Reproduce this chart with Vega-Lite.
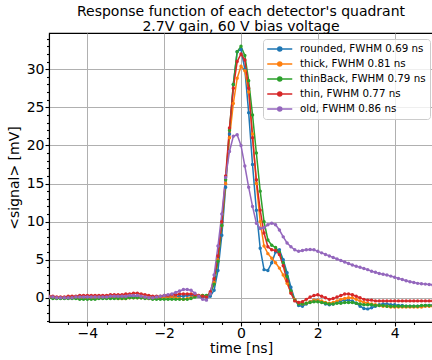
{
  "$schema": "https://vega.github.io/schema/vega-lite/v6.json",
  "width": 384,
  "height": 289,
  "autosize": {"type": "none"},
  "padding": {"left": 49, "top": 33, "right": 0, "bottom": 38},
  "background": "white",
  "config": {
    "font": "DejaVu Sans",
    "view": {"stroke": "black", "strokeWidth": 1.1},
    "axis": {"domainColor": "black", "domainWidth": 1.1, "tickColor": "black", "tickWidth": 1.1, "labelFont": "DejaVu Sans", "labelFontSize": 14, "labelColor": "black", "titleFont": "DejaVu Sans", "titleFontSize": 14, "titleFontWeight": "normal", "titleColor": "black", "gridColor": "#b0b0b0", "gridWidth": 1}
  },
  "title": {"text": ["Response function of each detector's quadrant", "2.7V gain, 60 V bias voltage"], "fontSize": 14, "font": "DejaVu Sans", "fontWeight": "normal", "color": "black", "lineHeight": 15.5, "offset": -1, "anchor": "middle"},
  "data": {"values": [
    {"t":-5.0,"rounded":0.1,"thick":0.1,"thinBack":0.0,"thin":0.2,"old":0.1},
    {"t":-4.9,"rounded":0.1,"thick":0.0,"thinBack":-0.1,"thin":0.2,"old":0.1},
    {"t":-4.8,"rounded":0.0,"thick":0.0,"thinBack":-0.1,"thin":0.1,"old":0.0},
    {"t":-4.7,"rounded":0.0,"thick":0.0,"thinBack":-0.1,"thin":0.1,"old":0.0},
    {"t":-4.6,"rounded":0.0,"thick":0.0,"thinBack":-0.1,"thin":0.1,"old":0.0},
    {"t":-4.5,"rounded":0.0,"thick":0.0,"thinBack":-0.1,"thin":0.2,"old":0.0},
    {"t":-4.4,"rounded":0.0,"thick":0.0,"thinBack":-0.1,"thin":0.2,"old":0.0},
    {"t":-4.3,"rounded":0.1,"thick":0.0,"thinBack":-0.1,"thin":0.2,"old":0.1},
    {"t":-4.2,"rounded":0.1,"thick":0.0,"thinBack":-0.2,"thin":0.3,"old":0.1},
    {"t":-4.1,"rounded":0.0,"thick":0.0,"thinBack":-0.2,"thin":0.3,"old":0.1},
    {"t":-4.0,"rounded":0.0,"thick":-0.1,"thinBack":-0.2,"thin":0.3,"old":0.1},
    {"t":-3.9,"rounded":0.0,"thick":-0.1,"thinBack":-0.2,"thin":0.3,"old":0.1},
    {"t":-3.8,"rounded":0.0,"thick":0.0,"thinBack":-0.2,"thin":0.3,"old":0.1},
    {"t":-3.7,"rounded":0.1,"thick":0.0,"thinBack":-0.1,"thin":0.3,"old":0.1},
    {"t":-3.6,"rounded":0.1,"thick":0.0,"thinBack":-0.1,"thin":0.3,"old":0.1},
    {"t":-3.5,"rounded":0.1,"thick":0.0,"thinBack":-0.1,"thin":0.3,"old":0.1},
    {"t":-3.4,"rounded":0.1,"thick":0.0,"thinBack":-0.1,"thin":0.4,"old":0.2},
    {"t":-3.3,"rounded":0.1,"thick":0.0,"thinBack":-0.1,"thin":0.4,"old":0.2},
    {"t":-3.2,"rounded":0.1,"thick":-0.1,"thinBack":-0.1,"thin":0.4,"old":0.2},
    {"t":-3.1,"rounded":0.1,"thick":-0.1,"thinBack":-0.1,"thin":0.4,"old":0.2},
    {"t":-3.0,"rounded":0.1,"thick":-0.1,"thinBack":-0.1,"thin":0.5,"old":0.2},
    {"t":-2.9,"rounded":0.1,"thick":0.0,"thinBack":0.0,"thin":0.5,"old":0.3},
    {"t":-2.8,"rounded":0.1,"thick":0.0,"thinBack":0.0,"thin":0.6,"old":0.3},
    {"t":-2.7,"rounded":0.1,"thick":0.0,"thinBack":0.0,"thin":0.6,"old":0.3},
    {"t":-2.6,"rounded":0.0,"thick":0.0,"thinBack":0.0,"thin":0.5,"old":0.2},
    {"t":-2.5,"rounded":0.0,"thick":0.0,"thinBack":-0.1,"thin":0.4,"old":0.1},
    {"t":-2.4,"rounded":0.0,"thick":-0.1,"thinBack":-0.1,"thin":0.3,"old":0.0},
    {"t":-2.3,"rounded":0.0,"thick":-0.1,"thinBack":-0.2,"thin":0.2,"old":0.0},
    {"t":-2.2,"rounded":0.0,"thick":0.0,"thinBack":-0.2,"thin":0.2,"old":0.1},
    {"t":-2.1,"rounded":0.0,"thick":0.0,"thinBack":-0.2,"thin":0.2,"old":0.2},
    {"t":-2.0,"rounded":0.1,"thick":0.0,"thinBack":-0.2,"thin":0.3,"old":0.3},
    {"t":-1.9,"rounded":0.1,"thick":0.1,"thinBack":-0.2,"thin":0.3,"old":0.4},
    {"t":-1.8,"rounded":0.1,"thick":0.1,"thinBack":-0.2,"thin":0.4,"old":0.5},
    {"t":-1.7,"rounded":0.2,"thick":0.0,"thinBack":-0.2,"thin":0.4,"old":0.7},
    {"t":-1.6,"rounded":0.2,"thick":-0.1,"thinBack":-0.2,"thin":0.5,"old":0.9},
    {"t":-1.5,"rounded":0.2,"thick":-0.2,"thinBack":-0.2,"thin":0.5,"old":1.1},
    {"t":-1.4,"rounded":0.3,"thick":-0.1,"thinBack":-0.2,"thin":0.5,"old":1.1},
    {"t":-1.3,"rounded":0.3,"thick":0.0,"thinBack":-0.1,"thin":0.5,"old":1.0},
    {"t":-1.2,"rounded":0.2,"thick":0.2,"thinBack":0.1,"thin":0.4,"old":0.6},
    {"t":-1.1,"rounded":0.2,"thick":0.3,"thinBack":0.2,"thin":0.3,"old":0.2},
    {"t":-1.0,"rounded":0.1,"thick":0.3,"thinBack":0.3,"thin":0.2,"old":-0.2},
    {"t":-0.9,"rounded":0.1,"thick":0.2,"thinBack":0.3,"thin":0.1,"old":-0.3},
    {"t":-0.8,"rounded":0.2,"thick":0.6,"thinBack":0.5,"thin":0.8,"old":0.5},
    {"t":-0.7,"rounded":1.0,"thick":2.0,"thinBack":1.8,"thin":2.5,"old":3.0},
    {"t":-0.6,"rounded":3.6,"thick":5.0,"thinBack":4.8,"thin":5.5,"old":6.8},
    {"t":-0.5,"rounded":8.2,"thick":9.5,"thinBack":9.5,"thin":10.0,"old":11.0},
    {"t":-0.4,"rounded":14.5,"thick":15.0,"thinBack":15.5,"thin":16.0,"old":15.8},
    {"t":-0.3,"rounded":21.5,"thick":21.0,"thinBack":22.0,"thin":22.3,"old":19.2},
    {"t":-0.2,"rounded":28.0,"thick":25.5,"thinBack":28.0,"thin":27.5,"old":21.2},
    {"t":-0.1,"rounded":32.3,"thick":28.8,"thinBack":32.3,"thin":31.0,"old":21.4},
    {"t":0.0,"rounded":32.6,"thick":30.4,"thinBack":33.0,"thin":32.0,"old":20.0},
    {"t":0.1,"rounded":30.0,"thick":29.8,"thinBack":31.8,"thin":31.2,"old":17.3},
    {"t":0.2,"rounded":24.3,"thick":27.0,"thinBack":28.5,"thin":27.5,"old":14.5},
    {"t":0.3,"rounded":17.5,"thick":21.5,"thinBack":24.0,"thin":21.0,"old":12.0},
    {"t":0.4,"rounded":11.5,"thick":15.0,"thinBack":19.0,"thin":15.5,"old":9.8},
    {"t":0.5,"rounded":6.5,"thick":10.0,"thinBack":14.0,"thin":11.5,"old":9.1},
    {"t":0.6,"rounded":3.7,"thick":6.8,"thinBack":10.0,"thin":8.5,"old":9.2},
    {"t":0.7,"rounded":3.6,"thick":5.8,"thinBack":7.6,"thin":6.7,"old":9.6},
    {"t":0.8,"rounded":4.6,"thick":5.2,"thinBack":6.9,"thin":6.3,"old":9.8},
    {"t":0.9,"rounded":6.0,"thick":4.6,"thinBack":6.6,"thin":6.2,"old":9.6},
    {"t":1.0,"rounded":6.3,"thick":3.9,"thinBack":6.0,"thin":5.7,"old":8.9},
    {"t":1.1,"rounded":5.0,"thick":3.0,"thinBack":4.6,"thin":4.2,"old":8.0},
    {"t":1.2,"rounded":3.3,"thick":1.9,"thinBack":2.8,"thin":2.2,"old":7.2},
    {"t":1.3,"rounded":1.4,"thick":0.7,"thinBack":0.9,"thin":0.6,"old":6.7},
    {"t":1.4,"rounded":-0.2,"thick":-0.2,"thinBack":-0.3,"thin":-0.4,"old":6.3},
    {"t":1.5,"rounded":-1.0,"thick":-0.7,"thinBack":-0.8,"thin":-0.6,"old":6.1},
    {"t":1.6,"rounded":-1.1,"thick":-0.8,"thinBack":-0.8,"thin":-0.5,"old":6.2},
    {"t":1.7,"rounded":-0.8,"thick":-0.7,"thinBack":-0.7,"thin":-0.2,"old":6.3},
    {"t":1.8,"rounded":-0.5,"thick":-0.5,"thinBack":-0.6,"thin":0.1,"old":6.35},
    {"t":1.9,"rounded":-0.3,"thick":-0.3,"thinBack":-0.5,"thin":0.3,"old":6.3},
    {"t":2.0,"rounded":-0.3,"thick":-0.3,"thinBack":-0.5,"thin":0.4,"old":6.1},
    {"t":2.1,"rounded":-0.5,"thick":-0.4,"thinBack":-0.6,"thin":0.2,"old":5.9},
    {"t":2.2,"rounded":-0.8,"thick":-0.6,"thinBack":-0.7,"thin":0.0,"old":5.7},
    {"t":2.3,"rounded":-0.9,"thick":-0.7,"thinBack":-0.8,"thin":-0.2,"old":5.5},
    {"t":2.4,"rounded":-0.8,"thick":-0.6,"thinBack":-0.8,"thin":-0.1,"old":5.3},
    {"t":2.5,"rounded":-0.6,"thick":-0.4,"thinBack":-0.7,"thin":0.1,"old":5.1},
    {"t":2.6,"rounded":-0.4,"thick":-0.2,"thinBack":-0.7,"thin":0.3,"old":4.9},
    {"t":2.7,"rounded":-0.3,"thick":-0.1,"thinBack":-0.6,"thin":0.5,"old":4.7},
    {"t":2.8,"rounded":-0.3,"thick":0.0,"thinBack":-0.6,"thin":0.5,"old":4.5},
    {"t":2.9,"rounded":-0.4,"thick":0.0,"thinBack":-0.6,"thin":0.4,"old":4.3},
    {"t":3.0,"rounded":-0.7,"thick":-0.2,"thinBack":-0.7,"thin":0.2,"old":4.15},
    {"t":3.1,"rounded":-1.1,"thick":-0.4,"thinBack":-0.8,"thin":0.0,"old":4.0},
    {"t":3.2,"rounded":-1.4,"thick":-0.6,"thinBack":-0.9,"thin":-0.2,"old":3.85},
    {"t":3.3,"rounded":-1.45,"thick":-0.7,"thinBack":-0.9,"thin":-0.3,"old":3.7},
    {"t":3.4,"rounded":-1.3,"thick":-0.8,"thinBack":-0.9,"thin":-0.3,"old":3.5},
    {"t":3.5,"rounded":-1.1,"thick":-0.9,"thinBack":-1.0,"thin":-0.4,"old":3.35},
    {"t":3.6,"rounded":-0.9,"thick":-1.0,"thinBack":-1.0,"thin":-0.4,"old":3.2},
    {"t":3.7,"rounded":-0.8,"thick":-1.1,"thinBack":-1.0,"thin":-0.4,"old":3.1},
    {"t":3.8,"rounded":-0.8,"thick":-1.1,"thinBack":-1.1,"thin":-0.4,"old":3.0},
    {"t":3.9,"rounded":-0.9,"thick":-1.2,"thinBack":-1.1,"thin":-0.4,"old":2.85},
    {"t":4.0,"rounded":-0.9,"thick":-1.2,"thinBack":-1.1,"thin":-0.4,"old":2.7},
    {"t":4.1,"rounded":-1.0,"thick":-1.2,"thinBack":-1.1,"thin":-0.4,"old":2.55},
    {"t":4.2,"rounded":-1.0,"thick":-1.2,"thinBack":-1.1,"thin":-0.4,"old":2.4},
    {"t":4.3,"rounded":-1.1,"thick":-1.2,"thinBack":-1.1,"thin":-0.4,"old":2.25},
    {"t":4.4,"rounded":-1.1,"thick":-1.2,"thinBack":-1.1,"thin":-0.4,"old":2.1},
    {"t":4.5,"rounded":-1.1,"thick":-1.2,"thinBack":-1.1,"thin":-0.4,"old":2.0},
    {"t":4.6,"rounded":-1.1,"thick":-1.2,"thinBack":-1.1,"thin":-0.4,"old":1.9},
    {"t":4.7,"rounded":-1.1,"thick":-1.2,"thinBack":-1.0,"thin":-0.4,"old":1.85},
    {"t":4.8,"rounded":-1.0,"thick":-1.1,"thinBack":-1.0,"thin":-0.4,"old":1.8},
    {"t":4.9,"rounded":-1.0,"thick":-1.1,"thinBack":-1.0,"thin":-0.4,"old":1.75},
    {"t":5.0,"rounded":-1.0,"thick":-1.1,"thinBack":-1.0,"thin":-0.4,"old":1.7}
  ]},
  "transform": [{"fold": ["rounded", "thick", "thinBack", "thin", "old"], "as": ["series", "v"]}],
  "mark": {"type": "line", "strokeWidth": 1.5, "clip": true, "point": {"filled": true, "size": 12}},
  "encoding": {
    "x": {"field": "t", "type": "quantitative", "scale": {"domain": [-5, 5], "nice": false, "zero": false},
      "axis": {"title": "time [ns]", "titlePadding": 1, "values": [-4.5,-4,-3.5,-3,-2.5,-2,-1.5,-1,-0.5,0,0.5,1,1.5,2,2.5,3,3.5,4,4.5],
        "labelExpr": "datum.value % 2 === 0 ? format(datum.value, 'd') : ''", "labelPadding": 0, "labelFlush": false,
        "tickSize": {"condition": {"test": "datum.value % 2 === 0", "value": 4}, "value": 2.5},
        "gridOpacity": {"condition": {"test": "datum.value % 2 === 0", "value": 1}, "value": 0}}},
    "y": {"field": "v", "type": "quantitative", "scale": {"domain": [-3.17, 34.75], "nice": false, "zero": false},
      "axis": {"title": "<signal> [mV]", "titlePadding": 5, "values": [-3,-2,-1,0,1,2,3,4,5,6,7,8,9,10,11,12,13,14,15,16,17,18,19,20,21,22,23,24,25,26,27,28,29,30,31,32,33,34],
        "labelExpr": "datum.value % 5 === 0 ? format(datum.value, 'd') : ''", "labelPadding": 1, "labelFlush": false,
        "tickSize": {"condition": {"test": "datum.value % 5 === 0", "value": 4}, "value": 2.5},
        "gridOpacity": {"condition": {"test": "datum.value % 5 === 0", "value": 1}, "value": 0}}},
    "color": {"field": "series", "type": "nominal",
      "scale": {"domain": ["rounded", "thick", "thinBack", "thin", "old"], "range": ["#1f77b4", "#ff7f0e", "#2ca02c", "#d62728", "#9467bd"]},
      "legend": {"title": null, "orient": "none", "legendX": 214, "legendY": 6,
        "labelExpr": "datum.label === 'rounded' ? 'rounded, FWHM 0.69 ns' : datum.label === 'thick' ? 'thick, FWHM 0.81 ns' : datum.label === 'thinBack' ? 'thinBack, FWHM 0.79 ns' : datum.label === 'thin' ? 'thin, FWHM 0.77 ns' : 'old, FWHM 0.86 ns'",
        "symbolType": "M-1.15,0L3.85,0M1.75,0A0.4,0.4,0,1,1,0.95,0A0.4,0.4,0,1,1,1.75,0Z",
        "symbolSize": 100, "symbolStrokeWidth": 1.5, "labelFontSize": 10.3, "labelFont": "DejaVu Sans", "labelColor": "black",
        "strokeColor": "#cccccc", "fillColor": "rgba(255,255,255,0.8)", "cornerRadius": 3, "padding": 4, "rowPadding": 3, "labelOffset": 21,
        "encode": {"symbols": {"update": {"fill": {"scale": "color", "field": "value"}, "fillOpacity": {"value": 1}}}}}}
  }
}
